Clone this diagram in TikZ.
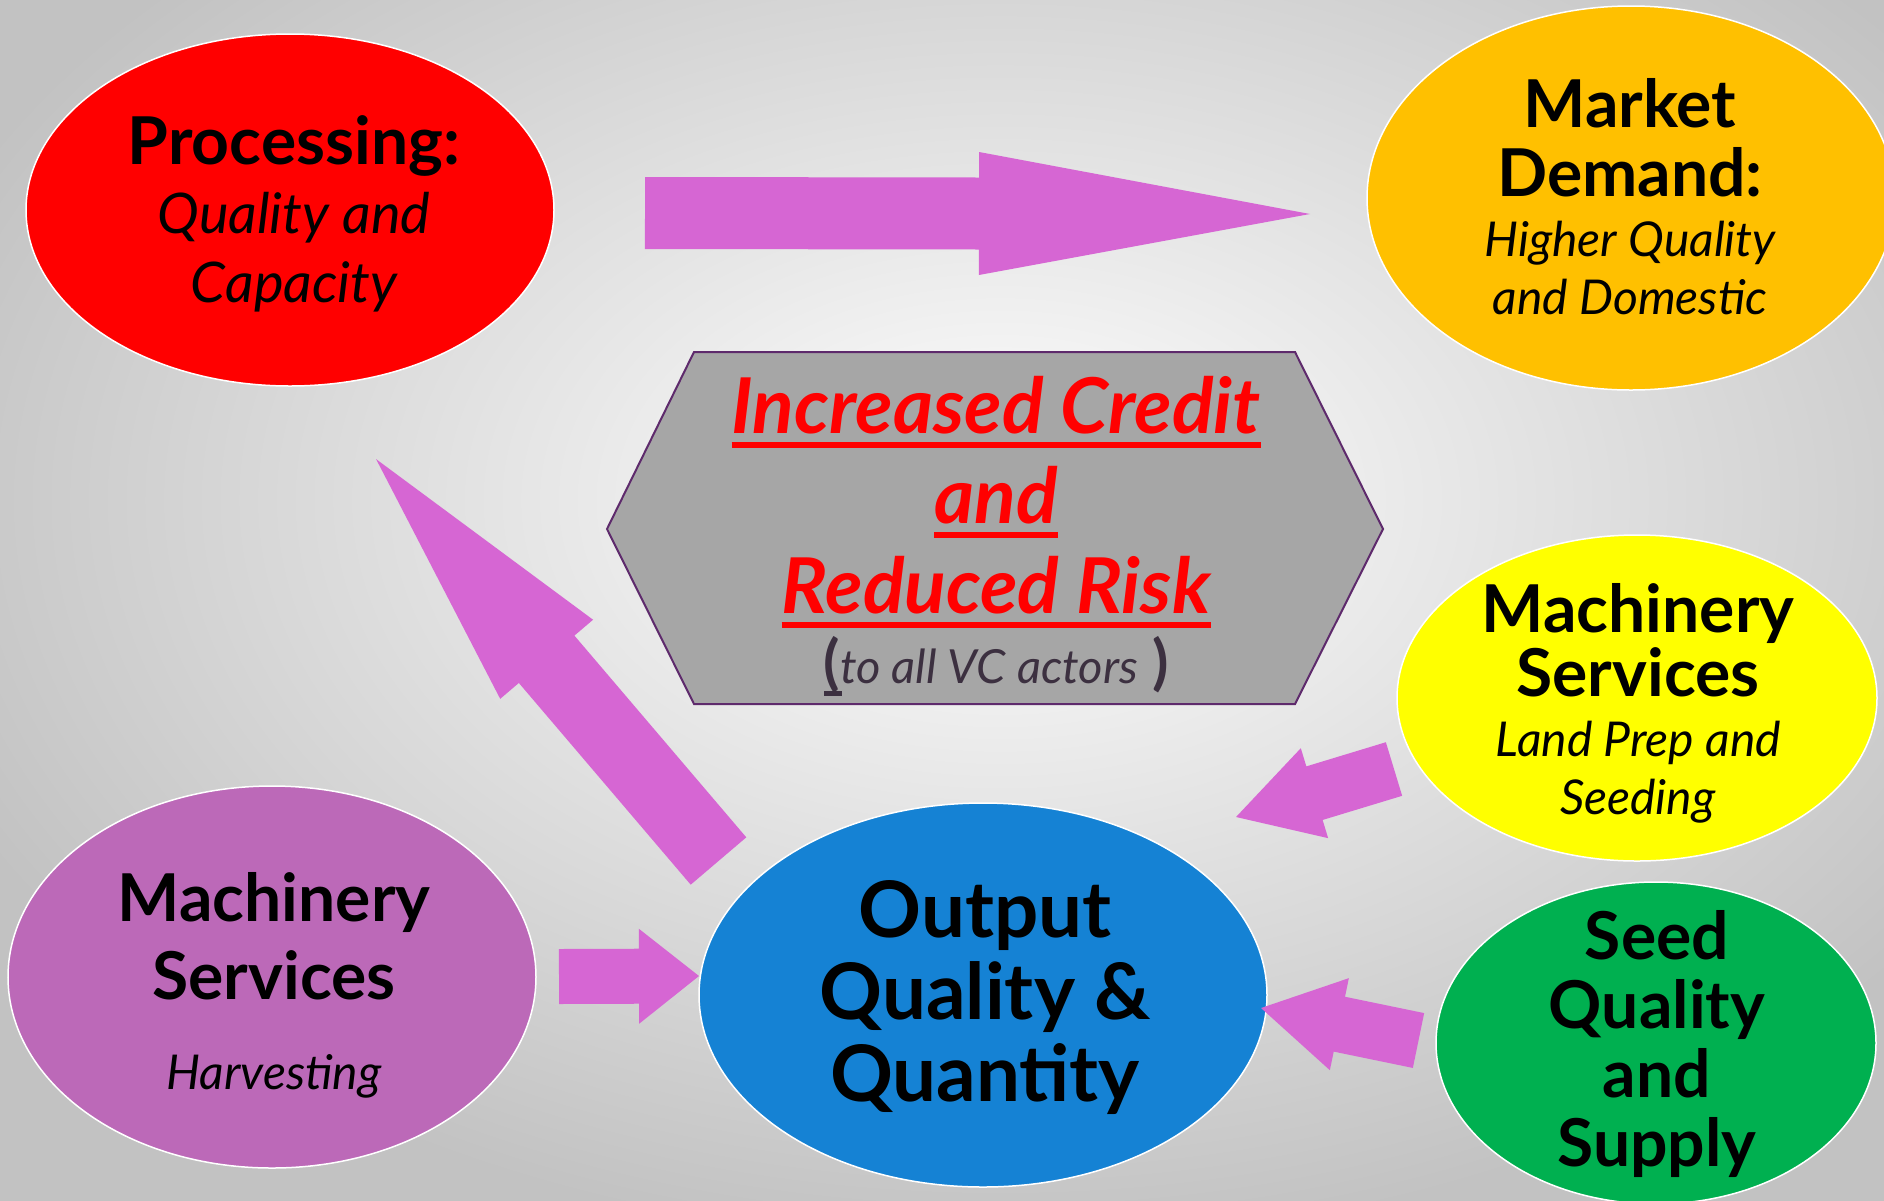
\documentclass[tikz,border=0pt]{standalone}
\usepackage{fontspec}
\setmainfont{Lato}
\usetikzlibrary{shapes.geometric,calc}
\definecolor{procred}{HTML}{FF0000}
\definecolor{mktorange}{HTML}{FFC000}
\definecolor{machyellow}{HTML}{FFFF00}
\definecolor{seedgreen}{HTML}{00B050}
\definecolor{outblue}{HTML}{1582D4}
\definecolor{harvpurple}{HTML}{BC69B8}
\definecolor{arrowpink}{HTML}{D666D3}
\definecolor{hexgray}{HTML}{A6A6A6}
\definecolor{hexedge}{HTML}{5E2A6C}
\definecolor{actorgray}{HTML}{3C3040}
\newcommand\bft{\fontsize{66}{69}\selectfont\bfseries}
\newcommand\bigbft{\fontsize{78}{82}\selectfont\bfseries}
\newcommand\itf{\fontsize{48}{58}\selectfont\mdseries\itshape}
\newcommand\bigitf{\fontsize{56}{58}\selectfont\mdseries\itshape}
\newcommand\redf{\fontsize{77}{90}\selectfont\bfseries\itshape}
\newcommand\blockarr[5]{%
  \path let \p1=($(#2)-(#1)$) in \pgfextra{%
    \pgfmathsetmacro\baang{atan2(\y1,\x1)}%
    \pgfmathsetmacro\balen{veclen(\x1,\y1)}%
    \pgfmathsetmacro\babase{\balen-#5}%
    \global\let\baang\baang\global\let\balen\balen\global\let\babase\babase};
  \fill[arrowfill,shift={(#1)},rotate=\baang]
    (0pt,-#3pt) -- (\babase pt,-#3pt) -- (\babase pt,-#4pt) -- (\balen pt,0pt)
    -- (\babase pt,#4pt) -- (\babase pt,#3pt) -- (0pt,#3pt) -- cycle;}
\begin{document}
\begin{tikzpicture}[x=1pt,y=-1pt,
  blob/.style={ellipse,draw=white,line width=1.5,inner sep=0},
  lbl/.style={inner sep=0,anchor=base,align=center,font=\bft},
  arrowfill/.style={fill=arrowpink},
  redline/.style={inner sep=0,anchor=base,text=procred,font=\redf},
  uline/.style={procred,line width=6}]
\useasboundingbox (0,0) rectangle (1884,1200);
\clip (0,0) rectangle (1884,1200);
\shade[inner color=white,outer color=black!24] (-150,-250) rectangle (2150,1250);

% ellipses
\node[blob,fill=procred,minimum width=528,minimum height=352] (proc) at (290,210) {};
\node[blob,fill=mktorange,minimum width=528,minimum height=384] (mkt) at (1631,198) {};
\node[blob,fill=machyellow,minimum width=480,minimum height=326] (mach) at (1637,698) {};
\node[blob,fill=seedgreen,minimum width=440,minimum height=322] (seed) at (1656,1043) {};
\node[blob,fill=outblue,minimum width=568,minimum height=384] (out) at (983,995) {};
\node[blob,fill=harvpurple,minimum width=528,minimum height=382] (harv) at (272,977) {};

% ellipse labels (anchored at the baseline of their last line)
\node[lbl] (proc-l) at (294,302)
  {Processing:\\{\bigitf Quality and}\\{\bigitf Capacity}};
\node[lbl] (mkt-l) at (1630,314)
  {Market\\Demand:\\[-9pt]{\itf Higher Quality}\\[-11pt]{\itf and Domestic}};
\node[lbl] (mach-l) at (1638,814)
  {Machinery\\[-5pt]Services\\[-9pt]{\itf Land Prep and}\\[-11pt]{\itf Seeding}};
\node[lbl] (seed-l) at (1657,1166)
  {Seed\\Quality\\and\\Supply};
\node[lbl,font=\bigbft] (out-l) at (985,1101)
  {Output\\Quality \&\\Quantity};
\node[lbl] (harv-l) at (274,1089)
  {Machinery\\[9pt]Services\\[21pt]{\itf Harvesting}};

% central hexagon
\draw[fill=hexgray,draw=hexedge,line width=2]
  (694,352) -- (1295,352) -- (1383,529) -- (1295,704) -- (694,704) -- (607,529) -- cycle;
\node[redline] (cr1) at (996,433) {Increased Credit};
\node[redline] (cr2) at (996,523) {and};
\node[redline] (cr3) at (996,613) {Reduced Risk};
\draw[uline] ($(cr1.base west)+(0,12)$) -- ($(cr1.base east)+(0,12)$);
\draw[uline] ($(cr2.base west)+(0,12)$) -- ($(cr2.base east)+(0,12)$);
\draw[uline] ($(cr3.base west)+(0,12)$) -- ($(cr3.base east)+(0,12)$);
\node[inner sep=0,anchor=base west,text=actorgray,font=\fontsize{47}{50}\selectfont\itshape] (actm) at (840,683)
  {to all VC actors};
\node[inner sep=0,anchor=base east,text=actorgray,font=\fontsize{60}{60}\selectfont\bfseries] (actl) at (actm.base west) {(};
\node[inner sep=0,anchor=base west,text=actorgray,font=\fontsize{60}{60}\selectfont\bfseries] (actr) at ($(actm.base east)+(14,0)$) {)};
\draw[actorgray,line width=5] ($(actl.base west)+(1,10)$) -- ($(actl.base east)+(2,10)$);

% block arrows
\coordinate (a1t) at (645,213);  \coordinate (a1h) at (1310,214);
\coordinate (a2t) at (718.5,861); \coordinate (a2h) at (376,459);
\coordinate (a3t) at (559,976.5); \coordinate (a3h) at (699,976);
\coordinate (a4t) at (1394,769); \coordinate (a4h) at (1236,817);
\coordinate (a5t) at (1418.5,1040.5); \coordinate (a5h) at (1261,1008);
\blockarr{a1t}{a1h}{36}{61.5}{331}
\blockarr{a2t}{a2h}{36.5}{61}{263}
\blockarr{a3t}{a3h}{27.5}{47.5}{60}
\blockarr{a4t}{a4h}{28}{47}{82}
\blockarr{a5t}{a5h}{28}{47}{80}
\end{tikzpicture}
\end{document}
